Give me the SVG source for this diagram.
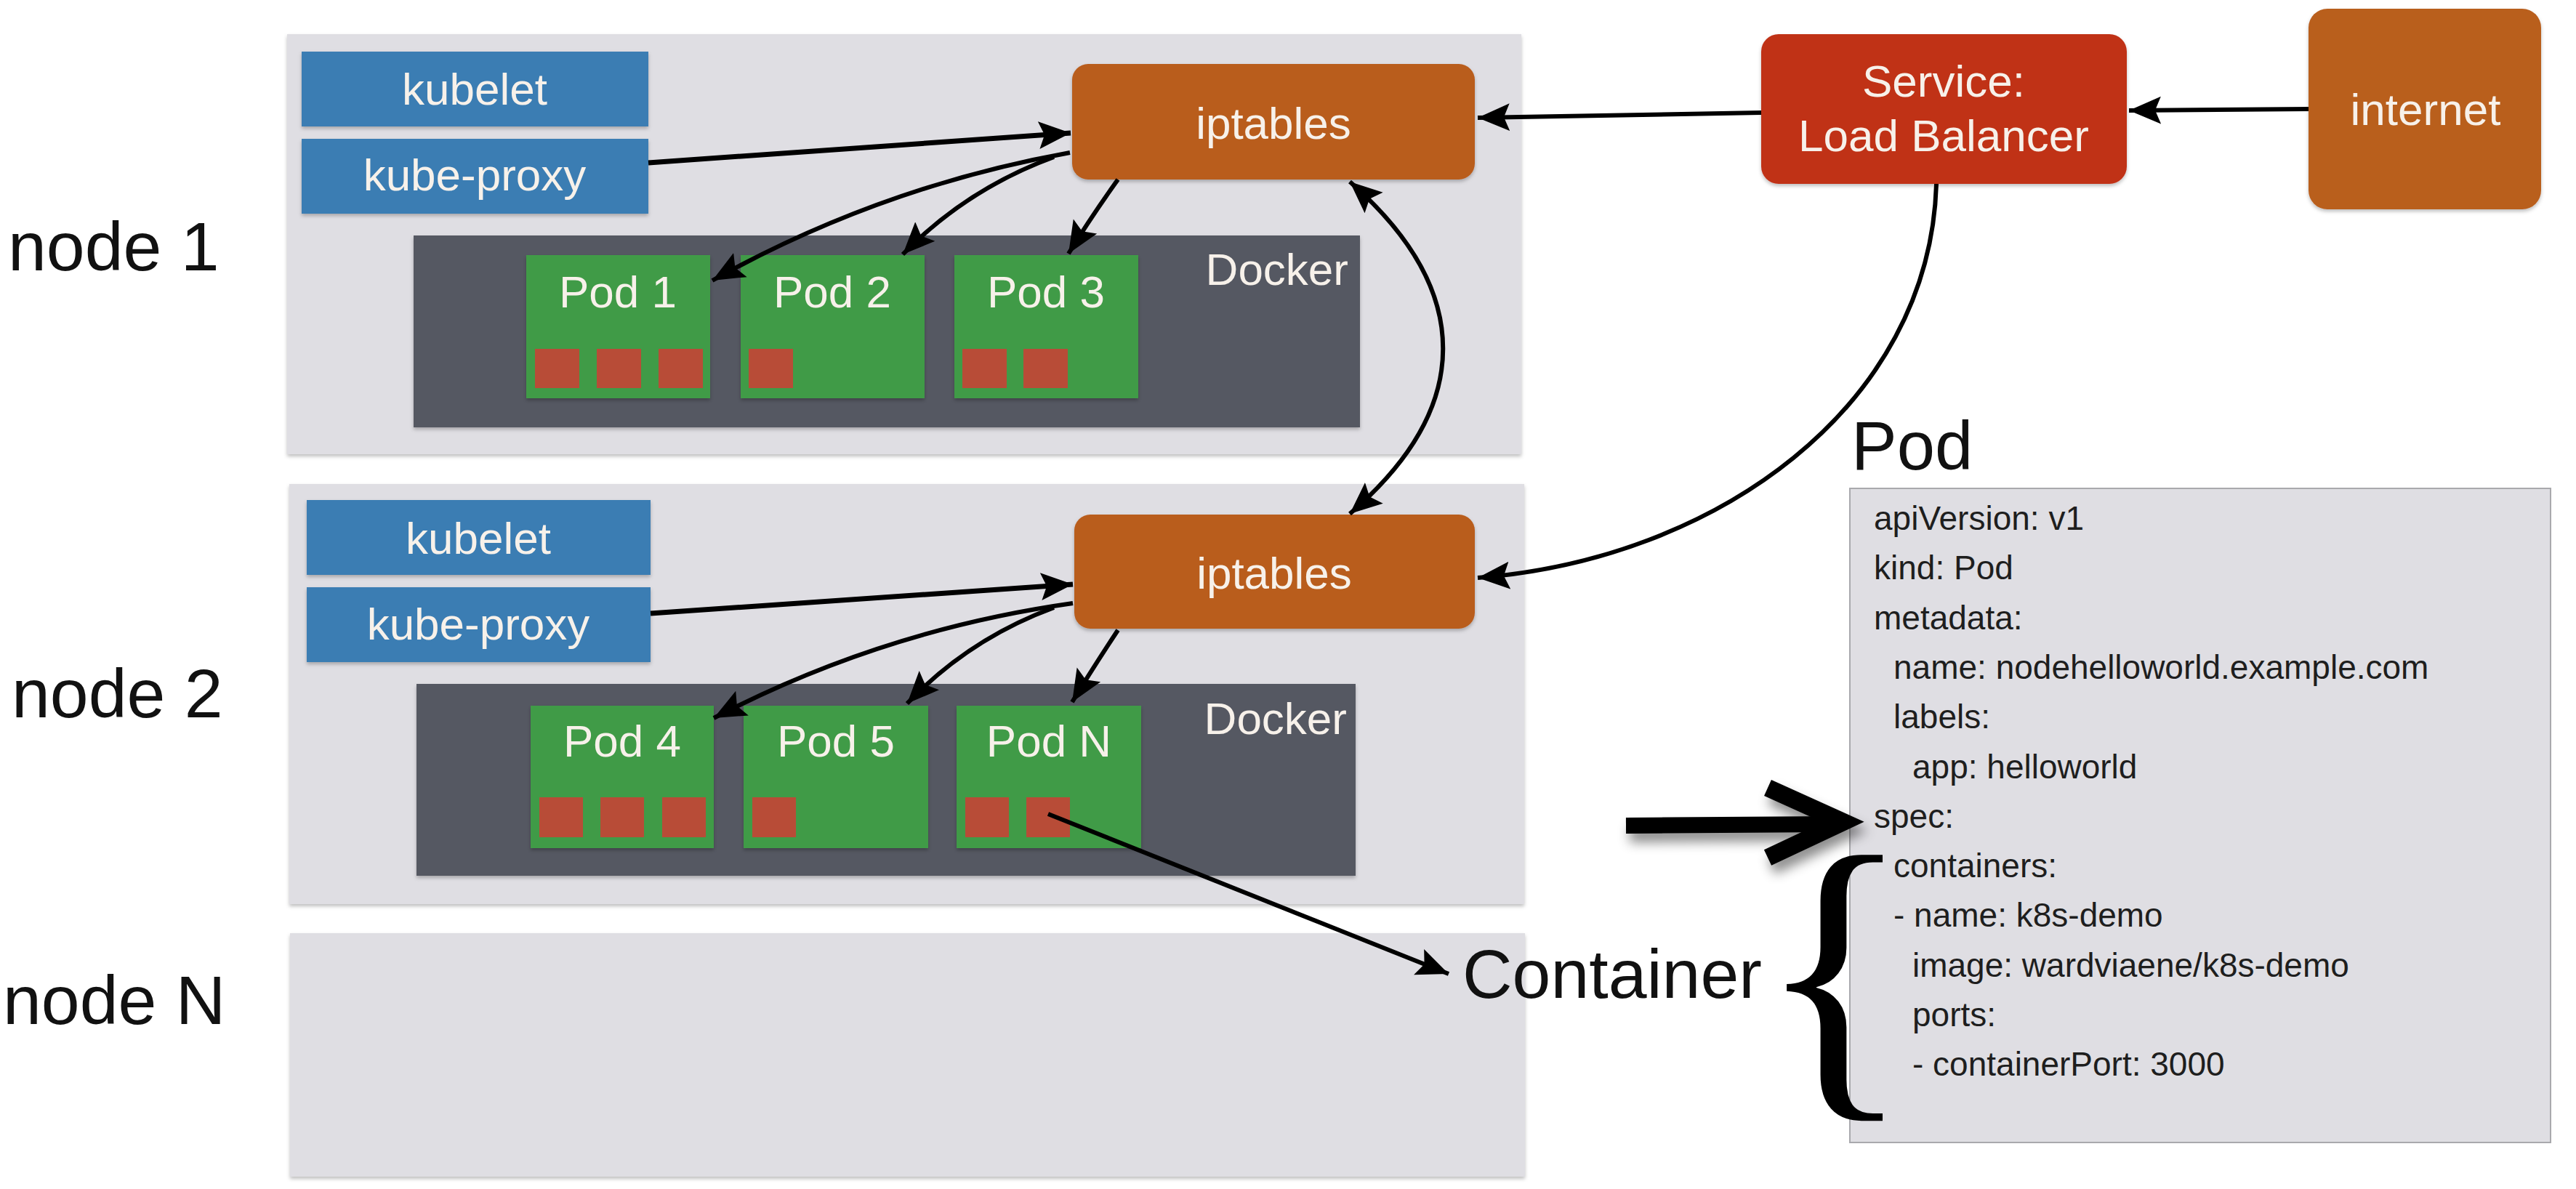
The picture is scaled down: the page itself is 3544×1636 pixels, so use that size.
<svg xmlns="http://www.w3.org/2000/svg" width="3544" height="1636" viewBox="0 0 3544 1636">
<style>
.panel{fill:#dfdee3;}
.blue{fill:#3b7db3;}
.ipt{fill:#b95d1f;}
.docker{fill:#545862;}
.pod{fill:#3f9b47;}
.ctr{fill:#b84c37;}
.lbl{font-family:"Liberation Sans",Arial,Helvetica,sans-serif;font-size:62px;fill:#f7f1ea;text-anchor:middle;}
.big{font-family:"Liberation Sans",Arial,Helvetica,sans-serif;font-size:95px;fill:#111;}
.yaml{font-family:"Liberation Sans",Arial,Helvetica,sans-serif;font-size:46px;fill:#1e1e1e;}
.conn{stroke:#000;fill:none;stroke-width:6;}
.thick{stroke-width:7;}
</style>
<defs>
<filter id="sh" x="-5%" y="-5%" width="110%" height="120%">
<feDropShadow dx="0" dy="3" stdDeviation="2.5" flood-color="#000" flood-opacity="0.25"/>
</filter>
<filter id="bigsh" x="-20%" y="-30%" width="140%" height="180%">
<feDropShadow dx="5" dy="12" stdDeviation="8" flood-color="#000" flood-opacity="0.45"/>
</filter>
<marker id="ah" markerUnits="userSpaceOnUse" markerWidth="46" markerHeight="40" viewBox="0 0 46 40" refX="44" refY="20" orient="auto-start-reverse">
<path d="M0,1 L44,20 L0,39 L8,20 Z" fill="#000"/>
</marker>
</defs>
<rect width="3544" height="1636" fill="#ffffff"/>

<g id="node1">
<rect class="panel" x="395" y="47" width="1698" height="578" filter="url(#sh)"/>
<text class="big" x="11" y="372">node 1</text>
</g>
<g id="node2">
<rect class="panel" x="398" y="666" width="1699" height="578" filter="url(#sh)"/>
<text class="big" x="16" y="987">node 2</text>
</g>
<g id="nodeN">
<rect class="panel" x="399" y="1284" width="1699" height="335" filter="url(#sh)"/>
<text class="big" x="4" y="1409">node N</text>
</g>

<g id="kubelet1"><rect class="blue" x="415" y="71" width="477" height="103" filter="url(#sh)"/><text class="lbl" x="653" y="144">kubelet</text></g>
<g id="kubeproxy1"><rect class="blue" x="415" y="191" width="477" height="103" filter="url(#sh)"/><text class="lbl" x="653" y="262">kube-proxy</text></g>
<g id="iptables1"><rect class="ipt" x="1475" y="88" width="554" height="159" rx="22" filter="url(#sh)"/><text class="lbl" x="1752" y="191">iptables</text></g>
<g id="docker1"><rect class="docker" x="569" y="324" width="1302" height="264" filter="url(#sh)"/><text class="lbl" x="1855" y="392" style="text-anchor:end">Docker</text></g>
<g id="pod1"><rect class="pod" x="724" y="351" width="253" height="197" filter="url(#sh)"/><text class="lbl" x="850" y="423">Pod 1</text>
<rect class="ctr" x="736" y="480" width="61" height="54"/><rect class="ctr" x="821" y="480" width="61" height="54"/><rect class="ctr" x="906" y="480" width="61" height="54"/></g>
<g id="pod2"><rect class="pod" x="1019" y="351" width="253" height="197" filter="url(#sh)"/><text class="lbl" x="1145" y="423">Pod 2</text>
<rect class="ctr" x="1030" y="480" width="61" height="54"/></g>
<g id="pod3"><rect class="pod" x="1313" y="351" width="253" height="197" filter="url(#sh)"/><text class="lbl" x="1439" y="423">Pod 3</text>
<rect class="ctr" x="1324" y="480" width="61" height="54"/><rect class="ctr" x="1408" y="480" width="61" height="54"/></g>

<g id="kubelet2"><rect class="blue" x="422" y="688" width="473" height="103" filter="url(#sh)"/><text class="lbl" x="658" y="762">kubelet</text></g>
<g id="kubeproxy2"><rect class="blue" x="422" y="808" width="473" height="103" filter="url(#sh)"/><text class="lbl" x="658" y="880">kube-proxy</text></g>
<g id="iptables2"><rect class="ipt" x="1478" y="708" width="551" height="157" rx="22" filter="url(#sh)"/><text class="lbl" x="1753" y="810">iptables</text></g>
<g id="docker2"><rect class="docker" x="573" y="941" width="1292" height="264" filter="url(#sh)"/><text class="lbl" x="1853" y="1010" style="text-anchor:end">Docker</text></g>
<g id="pod4"><rect class="pod" x="730" y="971" width="252" height="196" filter="url(#sh)"/><text class="lbl" x="856" y="1041">Pod 4</text>
<rect class="ctr" x="742" y="1097" width="60" height="55"/><rect class="ctr" x="826" y="1097" width="60" height="55"/><rect class="ctr" x="911" y="1097" width="60" height="55"/></g>
<g id="pod5"><rect class="pod" x="1023" y="971" width="254" height="196" filter="url(#sh)"/><text class="lbl" x="1150" y="1041">Pod 5</text>
<rect class="ctr" x="1035" y="1097" width="60" height="55"/></g>
<g id="podN"><rect class="pod" x="1316" y="971" width="254" height="196" filter="url(#sh)"/><text class="lbl" x="1443" y="1041">Pod N</text>
<rect class="ctr" x="1328" y="1097" width="60" height="55"/><rect class="ctr" x="1412" y="1097" width="60" height="55"/></g>

<g id="service"><rect x="2423" y="47" width="503" height="206" rx="24" fill="#c03119" filter="url(#sh)"/>
<text class="lbl" x="2674" y="133">Service:</text><text class="lbl" x="2674" y="208">Load Balancer</text></g>
<g id="internet"><rect x="3176" y="12" width="320" height="276" rx="26" fill="#b95e1f" filter="url(#sh)"/><text class="lbl" x="3337" y="172">internet</text></g>

<g id="podspec">
<text class="big" x="2547" y="646" style="font-size:94px">Pod</text>
<rect x="2545" y="672" width="964" height="900" fill="#dfdee3" stroke="#a9a9ad" stroke-width="2"/>
<text class="yaml">
<tspan x="2578" y="729">apiVersion: v1</tspan>
<tspan x="2578" y="797">kind: Pod</tspan>
<tspan x="2578" y="866">metadata:</tspan>
<tspan x="2605" y="934">name: nodehelloworld.example.com</tspan>
<tspan x="2605" y="1002">labels:</tspan>
<tspan x="2631" y="1071">app: helloworld</tspan>
<tspan x="2578" y="1139">spec:</tspan>
<tspan x="2605" y="1207">containers:</tspan>
<tspan x="2605" y="1275">- name: k8s-demo</tspan>
<tspan x="2631" y="1344">image: wardviaene/k8s-demo</tspan>
<tspan x="2631" y="1412">ports:</tspan>
<tspan x="2631" y="1480">- containerPort: 3000</tspan>
</text>
</g>

<g id="container-label">
<text class="big" x="2012" y="1373">Container</text>
<text x="0" y="0" transform="matrix(1 0 0 1 2418 1483)" style="font-family:'Liberation Serif','Times New Roman',serif;font-size:442px;fill:#000">{</text>
</g>

<g id="spec-arrow" filter="url(#bigsh)">
<line x1="2237" y1="1136" x2="2520" y2="1134" stroke="#000" stroke-width="22"/>
<polyline points="2432,1084 2536,1131 2432,1180" fill="none" stroke="#000" stroke-width="24" stroke-linejoin="miter" stroke-miterlimit="10"/>
</g>

<g id="connectors">
<path class="conn" d="M3176,150 L2929,152" marker-end="url(#ah)"/>
<path class="conn" d="M2423,155 L2033,162" marker-end="url(#ah)"/>
<path class="conn" d="M2664,253 C2655,560 2360,770 2033,795" marker-end="url(#ah)"/>
<path class="conn" d="M1857,250 C2028,400 2028,560 1857,707" marker-start="url(#ah)" marker-end="url(#ah)"/>
<path class="conn thick" d="M892,224 L1473,183" marker-end="url(#ah)"/>
<path class="conn" d="M1472,210 Q1211,257 980,386" marker-end="url(#ah)"/>
<path class="conn" d="M1450,216 Q1330,260 1242,350" marker-end="url(#ah)"/>
<path class="conn" d="M1538,247 Q1500,300 1470,349" marker-end="url(#ah)"/>
<path class="conn thick" d="M895,844 L1476,804" marker-end="url(#ah)"/>
<path class="conn" d="M1476,830 Q1214,867 982,988" marker-end="url(#ah)"/>
<path class="conn" d="M1450,836 Q1333,879 1248,968" marker-end="url(#ah)"/>
<path class="conn" d="M1538,867 Q1503,920 1475,966" marker-end="url(#ah)"/>
<path class="conn" d="M1442,1120 L1993,1340" marker-end="url(#ah)"/>
</g>
</svg>
